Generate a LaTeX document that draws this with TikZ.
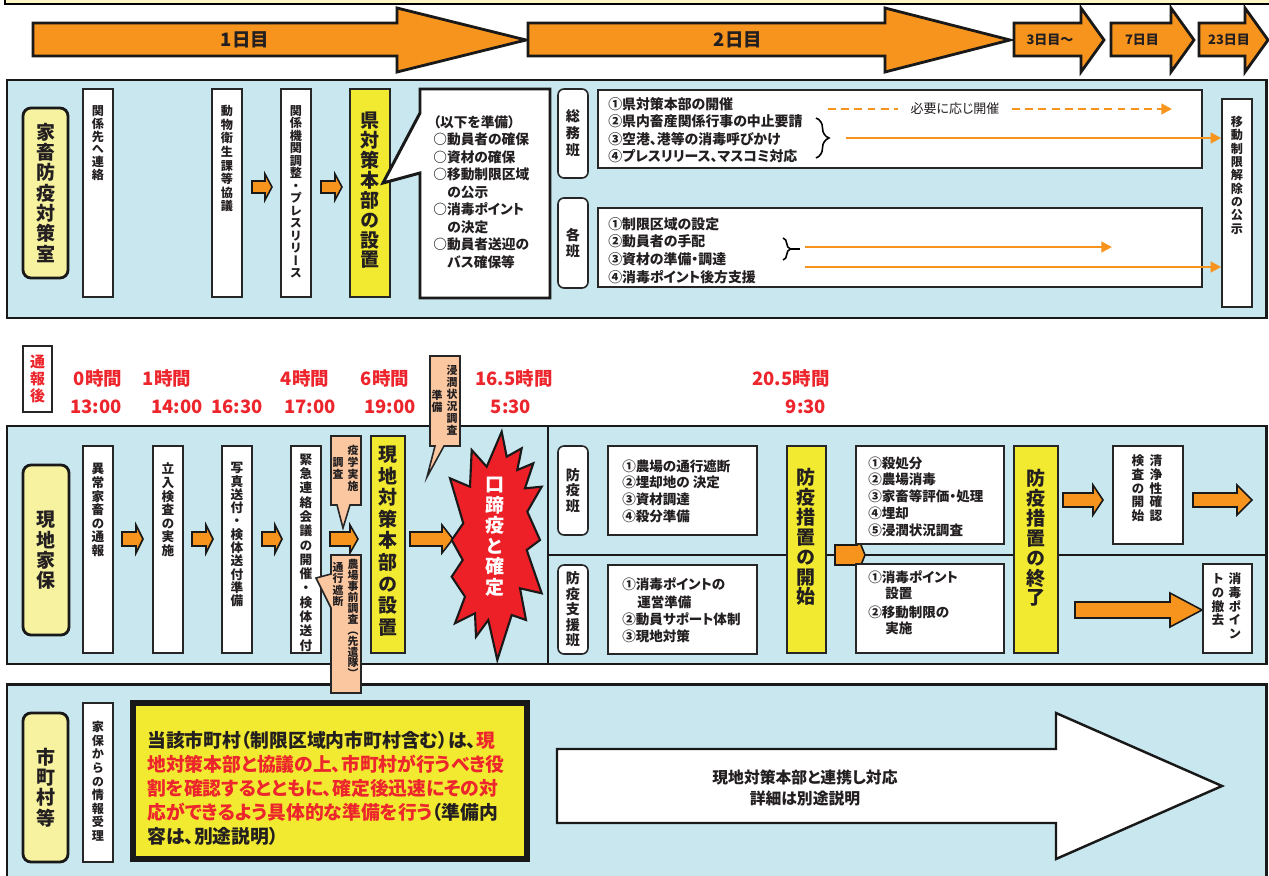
\documentclass[tikz,border=0pt]{standalone}
\usepackage{fontspec}
\setmainfont{Noto Sans CJK JP}[RawFeature=+palt]
\newfontfamily\jpv{Noto Sans CJK JP}[RawFeature=+vert]
\usetikzlibrary{arrows.meta,fit,decorations.pathreplacing}
\definecolor{lblue}{RGB}{200,231,238}
\definecolor{org}{RGB}{247,148,30}
\definecolor{ylw}{RGB}{242,234,48}
\definecolor{lylw}{RGB}{247,242,160}
\definecolor{pch}{RGB}{250,199,160}
\definecolor{rd}{RGB}{237,32,39}
\definecolor{rtx}{RGB}{236,38,44}
\definecolor{ink}{RGB}{35,31,32}
\definecolor{band}{RGB}{251,246,196}
\newcommand\fsz[1]{\fontsize{#1}{#1}\selectfont}
\makeatletter
\def\vt@end{}
\newcommand\vt[2][1.06]{\vbox{\offinterlineskip\def\vt@p{#1}\vt@loop#2\vt@end}}
\def\vt@loop#1{\ifx#1\vt@end\else\vt@c{#1}\expandafter\vt@loop\fi}
\def\vt@c#1{\hbox to 1em{\hss\vbox to \vt@p em{\vss\hbox{\vrule height .88em depth .12em width 0pt#1}\vss}\hss}}
\makeatother
\newcommand\barrow[7][oarr]{\draw[#1] (#2,#4-#5) -- (#3-#7,#4-#5) -- (#3-#7,#4-#6) -- (#3,#4) -- (#3-#7,#4+#6) -- (#3-#7,#4+#5) -- (#2,#4+#5) -- cycle;}
\tikzset{
 panel/.style={fill=lblue, draw=black!90, line width=1.7pt},
 wbox/.style={fill=white, draw=black!85, line width=0.9pt, inner sep=0},
 ybox/.style={fill=ylw, draw=black!85, line width=1pt, inner sep=0},
 pill/.style={fill=lylw, draw=black!90, line width=1.6pt, rounded corners=0.16cm, inner sep=0},
 spill/.style={fill=white, draw=black!85, line width=0.9pt, rounded corners=0.12cm, inner sep=0},
 peach/.style={fill=pch, draw=black!85, line width=0.9pt},
 oarr/.style={fill=org, draw=black!90, line width=0.9pt},
 tarr/.style={fill=org, draw=black!90, line width=1.6pt},
 vtx/.style={inner sep=0, text=ink},
 vs/.style={vtx, font=\jpv\bfseries\fsz{6.9}},
 vm/.style={vtx, font=\jpv\bfseries\fsz{7.2}},
 vc/.style={vtx, font=\jpv\bfseries\fsz{6.2}},
 vp/.style={vtx, font=\jpv\bfseries\fsz{8}},
 vl/.style={vtx, font=\jpv\bfseries\fsz{10.8}},
 btx/.style={inner sep=0, anchor=west, text=ink, font=\bfseries\fsz{7.9}},
 ptx/.style={inner sep=0, anchor=west, text=ink, font=\bfseries\fsz{7.7}},
 tl/.style={inner sep=0, text=rtx, font=\bfseries\fsz{10.5}},
 ttx/.style={inner sep=0, text=ink, font=\bfseries\fsz{10.5}},
 tts/.style={inner sep=0, text=ink, font=\bfseries\fsz{7.4}},
 ytx/.style={inner sep=0, anchor=west, text=ink, font=\bfseries\fsz{10.7}},
 oln/.style={draw=org, line width=1.6pt, -{Triangle[length=6pt,width=6pt]}},
 odash/.style={draw=org, line width=1.2pt, dash pattern=on 4.5pt off 3pt}
}
\begin{document}
\begin{tikzpicture}[x=0.02cm,y=-0.02cm]
\useasboundingbox (0,0) rectangle (1269,876);
\fill[white] (0,0) rectangle (1269,876);
% top band
\draw[fill=band, line width=1pt] (5,-20) rectangle (1290,4);
% day arrows
\draw[tarr] (33,23) -- (397,23) -- (397,8) -- (526,40) -- (397,72) -- (397,56) -- (33,56) -- cycle;
\node[ttx] (d1) at (245,40) {1日目};
\draw[tarr] (528,23) -- (885,23) -- (885,8) -- (1010,40) -- (885,72) -- (885,56) -- (528,56) -- cycle;
\node[ttx] (d2) at (738,40) {2日目};
\draw[tarr] (1014,23) -- (1081,23) -- (1081,8) -- (1104,40) -- (1081,72) -- (1081,56) -- (1014,56) -- cycle;
\node[tts] (d3) at (1050,40) {3日目～};
\draw[tarr] (1111,23) -- (1171,23) -- (1171,8) -- (1194,40) -- (1171,72) -- (1171,56) -- (1111,56) -- cycle;
\node[tts] (d7) at (1142,40) {7日目};
\draw[tarr] (1199,23) -- (1245,23) -- (1245,8) -- (1268,40) -- (1245,72) -- (1245,56) -- (1199,56) -- cycle;
\node[tts] (d23) at (1229,40) {23日目};

% ===== panel 1
\draw[panel] (7,80) rectangle (1266,318);
\node[pill, fit={(23,108)(68,278)}] (p1) {};
\node[vl] (p1t) at (p1.center) {\vt[1.07]{家畜防疫対策室}};
\node[wbox, fit={(83,89)(113,297)}] (k1) {};
\node[vs, anchor=north] (k1t) at (98,104) {\vt{関係先へ連絡}};
\node[wbox, fit={(212,89)(242,297)}] (k2) {};
\node[vs, anchor=north] (k2t) at (227,104) {\vt[1.12]{動物衛生課等協議}};
\barrow{252}{272}{187}{6}{13}{7}
\node[wbox, fit={(281,89)(311,297)}] (k3) {};
\node[vs, anchor=north] (k3t) at (296,104) {\vt[1.03]{関係機関調整・プレスリリース}};
\barrow{321}{342}{187}{6}{13}{7}
\node[ybox, fit={(350,89)(390,297)}] (k4) {};
\node[vl, anchor=north] (k4t) at (370,110) {\vt[1.05]{県対策本部の設置}};
\draw[line width=1.7pt, fill=white, draw=black!90] (420,89) -- (550,89) -- (550,298) -- (420,298) -- (420,173) -- (383,183) -- (420,113) -- cycle;
\foreach \tx/\xx [count=\i] in {（以下を準備）/433, ○動員者の確保/433, ○資材の確保/433, ○移動制限区域/433, の公示/447, ○消毒ポイント/433, の決定/447, ○動員者送迎の/433, バス確保等/447}
  \node[btx, font=\bfseries\fsz{7.8}] (c\i) at (\xx,122+17.5*\i-17.5) {\tx};
% somu
\node[spill, fit={(558,89)(588,178)}] (g1) {};
\node[vp] (g1t) at (g1.center) {\vt[1.2]{総務班}};
\node[wbox, fit={(598,90)(1202,168)}] (g2) {};
\foreach \tx [count=\i] in {①県対策本部の開催, ②県内畜産関係行事の中止要請, ③空港、港等の消毒呼びかけ, ④プレスリリース、マスコミ対応}
  \node[btx] (gl\i) at (608,104+17.5*\i-17.5) {\tx};
\node[wbox, fit={(1222,99)(1252,307)}] (kaijo) {};
\node[vs, anchor=north] (kaijot) at (1237,115) {\vt[1.1]{移動制限解除の公示}};
\coordinate (da) at (828,109);
\coordinate (db) at (1172,109);
\node[inner xsep=7pt, inner ysep=0, text=ink, font=\fsz{7.4}] (need) at (955,109) {必要に応じ開催};
\draw[odash] (da) -- (need.west);
\draw[odash, -{Triangle[length=6pt,width=6pt]}] (need.east) -- (db);
\draw[line width=0.9pt, decorate, decoration={brace, amplitude=0.26cm}] (816,118) -- (816,158);
\coordinate (bA) at (846,138);
\draw[oln] (bA) -- (kaijo.west |- bA);
% kakuhan
\node[spill, fit={(558,198)(588,288)}] (h1) {};
\node[vp] (h1t) at (h1.center) {\vt[1.15]{各班}};
\node[wbox, fit={(598,208)(1202,287)}] (h2) {};
\foreach \tx [count=\i] in {①制限区域の設定, ②動員者の手配, ③資材の準備・調達, ④消毒ポイント後方支援}
  \node[btx] (hl\i) at (608,224+17.6*\i-17.6) {\tx};
\draw[line width=0.9pt, decorate, decoration={brace, amplitude=0.15cm}] (783,238) -- (783,260);
\draw[line width=0.9pt] (791,249) -- (800,249);
\coordinate (hA) at (805,247);
\coordinate (hB) at (1112,247);
\coordinate (hC) at (805,267);
\draw[oln] (hA) -- (hB);
\draw[oln] (hC) -- (kaijo.west |- hC);

% ===== time labels
\node[wbox, line width=1.1pt, fit={(23,346)(52,412)}] (tsu) {};
\node[vtx, font=\jpv\bfseries\fsz{8.5}, text=rtx] (tsut) at (tsu.center) {\vt[1.15]{通報後}};
\node[tl] (h0) at (98,378) {0時間};
\node[tl] (h1x) at (167,378) {1時間};
\node[tl] (h4) at (305,378) {4時間};
\node[tl] (h6) at (385,378) {6時間};
\node[tl] (h16) at (514,378) {16.5時間};
\node[tl] (h20) at (791,378) {20.5時間};
\node[tl] (m1) at (96,407) {13:00};
\node[tl] (m2) at (177,407) {14:00};
\node[tl] (m3) at (237,407) {16:30};
\node[tl] (m4) at (310,407) {17:00};
\node[tl] (m5) at (390,407) {19:00};
\node[tl] (m6) at (511,407) {5:30};
\node[tl] (m7) at (806,407) {9:30};

% ===== panel 2
\draw[panel] (7,426) rectangle (1266,664);
\draw[line width=1.7pt, black!90] (548,426) -- (548,664);
\draw[line width=1.7pt, black!90] (548,555) -- (1266,555);
\node[pill, fit={(23,465)(69,635)}] (p2) {};
\node[vl] (p2t) at (p2.center) {\vt[1.07]{現地家保}};
\node[wbox, fit={(83,446)(113,653)}] (s1) {};
\node[vm, anchor=north] (s1t) at (98,462) {\vt[1.07]{異常家畜の通報}};
\barrow{122}{143}{539}{7}{14}{7}
\node[wbox, fit={(153,446)(183,653)}] (s2) {};
\node[vm, anchor=north] (s2t) at (168,462) {\vt[1.07]{立入検査の実施}};
\barrow{192}{213}{539}{7}{14}{7}
\node[wbox, fit={(222,446)(252,653)}] (s3) {};
\node[vm, anchor=north] (s3t) at (237,461) {\vt[1.05]{写真送付・検体送付準備}};
\barrow{262}{282}{539}{7}{14}{7}
\node[wbox, fit={(291,446)(321,653)}] (s4) {};
\node[vm, anchor=north] (s4t) at (306,452) {\vt[1.13]{緊急連絡会議の開催・検体送付}};
% epidemiology callout
\draw[peach] (331,436) -- (361,436) -- (361,505) -- (350,505) -- (343,528) -- (337,505) -- (331,505) -- cycle;
\node[vc, anchor=north] (e1) at (353,444) {\vt[1.1]{疫学実施}};
\node[vc, anchor=north] (e2) at (338,456) {\vt[1.1]{調査}};
\barrow{330}{358}{539}{7}{14}{8}
\node[ybox, fit={(371,436)(405,653)}] (s5) {};
\node[vl, anchor=north] (s5t) at (388,443) {\vt[1.14]{現地対策本部の設置}};
\barrow{410}{453}{539}{7}{14}{11}
% starburst
\draw[fill=rd, draw=black!90, line width=1.2pt] (501.7,431.7) -- (506.7,456.7) -- (521.7,448.3) -- (517.3,470) -- (533.3,463.3) -- (525,488.3) -- (541.7,486.7) -- (527.3,511.7) -- (540,540) -- (526.7,550) -- (541.7,593.3) -- (520,588.3) -- (526,620) -- (511.7,615) -- (497.3,660) -- (488.3,620) -- (476,636.7) -- (475,613.3) -- (455,623.3) -- (465,596.7) -- (451.7,576.7) -- (462.7,560) -- (451.7,540) -- (463.3,523.3) -- (450,478.3) -- (470,486.7) -- (471.7,450) -- (486.7,466.7) -- cycle;
\node[vtx, font=\jpv\bfseries\fsz{10.8}, text=white] (kt) at (495,536) {\vt[1.08]{口蹄疫と確定}};
% right part
\node[spill, fit={(558,446)(588,535)}] (r1) {};
\node[vp] (r1t) at (r1.center) {\vt[1.12]{防疫班}};
\node[wbox, fit={(608,446)(757,535)}] (r2) {};
\foreach \tx [count=\i] in {①農場の通行遮断, ②埋却地の 決定, ③資材調達, ④殺分準備}
  \node[ptx] (rl\i) at (622,466+16.8*\i-16.8) {\tx};
\node[spill, fit={(558,565)(588,654)}] (r3) {};
\node[vp] (r3t) at (r3.center) {\vt[1.1]{防疫支援班}};
\node[wbox, fit={(608,565)(757,654)}] (r4) {};
\node[ptx] (ra1) at (622,584) {①消毒ポイントの};
\node[ptx] (ra2) at (637,602) {運営準備};
\node[ptx] (ra3) at (622,619) {②動員サポート体制};
\node[ptx] (ra4) at (622,636) {③現地対策};
\node[ybox, fit={(787,446)(826,653)}] (r5) {};
\node[vl] (r5t) at (806,537) {\vt[1.05]{防疫措置の開始}};
\barrow{835}{865}{555}{10}{20}{8}
\node[wbox, fit={(856,446)(1004,544)}] (r6) {};
\foreach \tx [count=\i] in {①殺処分, ②農場消毒, ③家畜等評価・処理, ④埋却, ⑤浸潤状況調査}
  \node[ptx] (rk\i) at (868,463+16.8*\i-16.8) {\tx};
\node[wbox, fit={(856,564)(1004,653)}] (r7) {};
\node[ptx] (rm1) at (868,577) {①消毒ポイント};
\node[ptx] (rm2) at (885,594) {設置};
\node[ptx] (rm3) at (868,612) {②移動制限の};
\node[ptx] (rm4) at (885,628) {実施};
\node[ybox, fit={(1014,446)(1058,653)}] (r8) {};
\node[vl] (r8t) at (1036,538) {\vt[1.05]{防疫措置の終了}};
\barrow{1063}{1103}{500}{7}{15}{10}
\node[wbox, fit={(1113,446)(1183,544)}] (r9) {};
\node[vm, anchor=north] (r9a) at (1156,454) {\vt[1.08]{清浄性確認}};
\node[vm, anchor=north] (r9b) at (1138,454) {\vt[1.08]{検査の開始}};
\barrow{1193}{1252}{500}{7}{15}{15}
\barrow{1075}{1202}{610}{8}{17}{32}
\node[wbox, fit={(1203,564)(1252,653)}] (r10) {};
\node[vm, anchor=north] (r10a) at (1235,572) {\vt[1.08]{消毒ポイン}};
\node[vm, anchor=north] (r10b) at (1218,572) {\vt[1.08]{トの撤去}};
% survey callout (top)
\draw[peach] (430,356) -- (460,356) -- (460,446) -- (444,446) -- (427,477) -- (435,446) -- (430,446) -- cycle;
\node[vc, anchor=north] (f1) at (452,364) {\vt[1.1]{浸潤状況調査}};
\node[vc, anchor=north] (f2) at (437,389) {\vt[1.1]{準備}};

% ===== panel 3
\draw[panel] (7,684) rectangle (1266,900);
\node[pill, fit={(23,713)(68,862)}] (p3) {};
\node[vl] (p3t) at (p3.center) {\vt[1.07]{市町村等}};
\node[wbox, fit={(83,703)(113,862)}] (q1) {};
\node[vs, anchor=north] (q1t) at (98,720) {\vt[1.12]{家保からの情報受理}};
\node[fill=ylw, draw=black!90, line width=3.4pt, inner sep=0, fit={(133,703)(527,859)}] (q2) {};
\node[ytx] (y1) at (147,740) {当該市町村（制限区域内市町村含む）は、\textcolor{rtx}{現}};
\node[ytx, text=rtx] (y2) at (147,764) {地対策本部と協議の上、市町村が行うべき役};
\node[ytx, text=rtx] (y3) at (147,788) {割を確認するとともに、確定後迅速にその対};
\node[ytx] (y4) at (147,812) {\textcolor{rtx}{応ができるよう具体的な準備を行う}（準備内};
\node[ytx] (y5) at (147,836) {容は、別途説明）};
\draw[fill=white, draw=black!90, line width=1.4pt] (557,749) -- (1056,749) -- (1056,713) -- (1222,786) -- (1056,859) -- (1056,823) -- (557,823) -- cycle;
\node[inner sep=0, text=ink, font=\bfseries\fsz{9}, align=center] (q3) at (805,788) {現地対策本部と連携し対応\\[3pt]詳細は別途説明};
% advance team callout
\draw[peach] (331,555) -- (361,555) -- (361,693) -- (331,693) -- (331,608) -- (316,578) -- (331,574) -- cycle;
\node[vc, anchor=north] (a1) at (353,559) {\vt[1.0]{農場事前調査（先遣隊）}};
\node[vc, anchor=north] (a2) at (338,561) {\vt[1.05]{通行遮断}};
\end{tikzpicture}
\end{document}
